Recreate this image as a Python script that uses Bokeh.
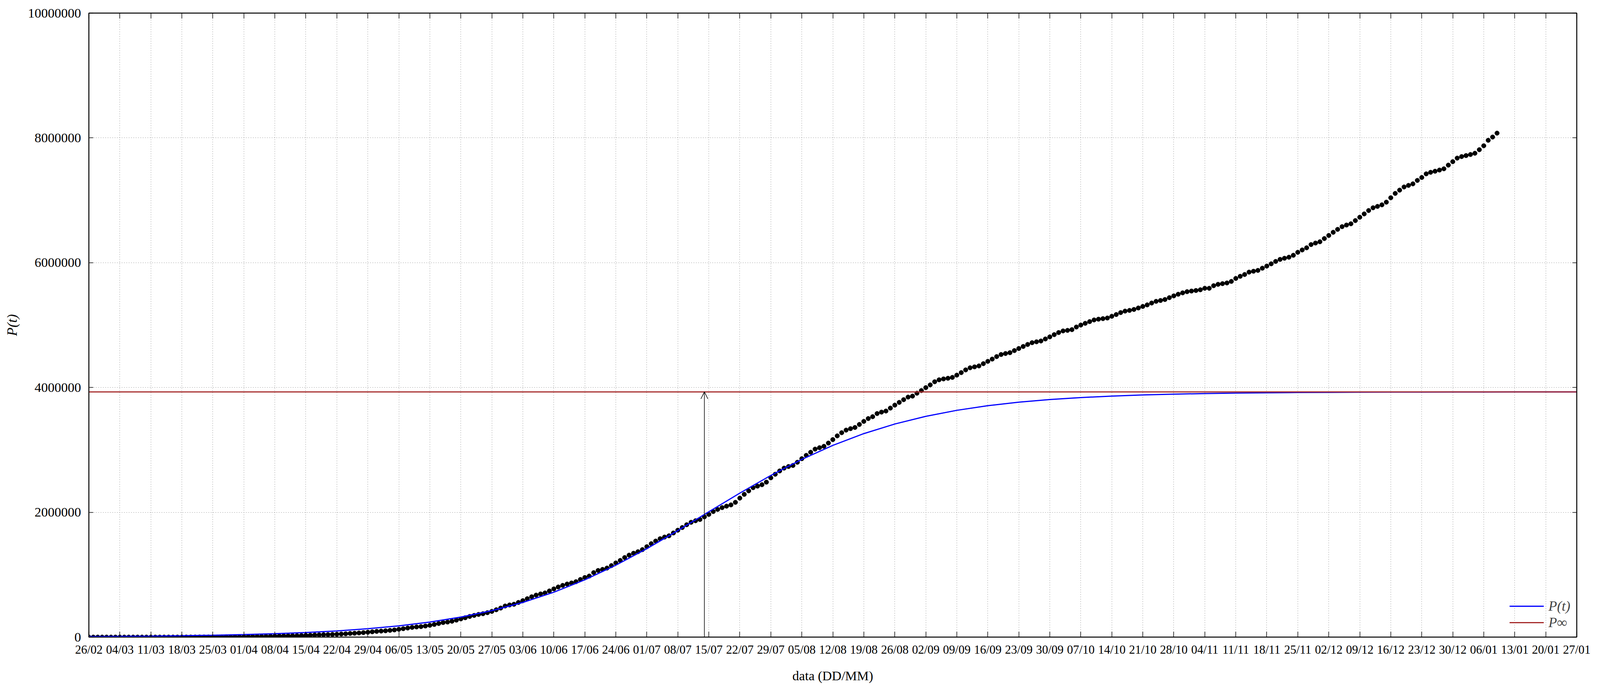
import pandas as pd
from bokeh.plotting import figure
from bokeh.models import (Range1d, FixedTicker, DatetimeTickFormatter, BasicTickFormatter,
                          DatetimeAxis, LinearAxis, CustomJSTickFormatter, Arrow, OpenHead,
                          Legend, LegendItem)
from bokeh.embed import file_html
from bokeh.resources import INLINE

FONT = "Liberation Serif"

# period shown on the x axis
start_date = "2020-02-26"
end_date = "2021-01-27"

# cumulative confirmed cases, one value per day from 26/02
cases_feb = [1, 1, 1, 2]
cases_mar = [2, 2, 2, 3, 8, 13, 19, 25, 25, 34, 52, 77, 98, 121, 200, 234, 291, 428, 621, 904,
             1128, 1546, 1891, 2201, 2433, 2915, 3417, 3904, 4256, 4579, 5717]
cases_apr = [6836, 7910, 9056, 10278, 11130, 12056, 13717, 15927, 17857, 19638, 20727, 22169,
             23430, 25262, 28320, 30425, 33682, 36599, 38654, 40581, 43079, 45757, 49492, 52995,
             58509, 61888, 66501, 71886, 78162, 85380]
cases_may = [91589, 96559, 101147, 107780, 114715, 125218, 135106, 145328, 155939, 162699,
             168331, 177589, 188974, 202918, 218223, 233142, 241080, 254220, 271628, 291579,
             310087, 330890, 347398, 363211, 374898, 391222, 411821, 438238, 465166, 498440,
             514849]
cases_jun = [526447, 555383, 584016, 614941, 645771, 672846, 691758, 707412, 739503, 772416,
             802828, 828810, 850514, 867624, 888271, 923189, 955377, 978142, 1032913, 1067579,
             1085038, 1106470, 1145906, 1188631, 1228114, 1274974, 1313667, 1344143, 1368195,
             1402041]
cases_jul = [1448753, 1496858, 1539081, 1577004, 1603055, 1623284, 1668589, 1713160, 1755779,
             1800827, 1839850, 1864681, 1884967, 1926824, 1966748, 2012151, 2046328, 2074860,
             2098389, 2118646, 2159654, 2227514, 2287475, 2343366, 2394513, 2419091, 2442375,
             2483191, 2552265, 2610102, 2662485]
cases_aug = [2707877, 2733677, 2750318, 2801921, 2859073, 2912212, 2962442, 3012412, 3035422,
             3057470, 3109630, 3164785, 3224876, 3275520, 3317096, 3340197, 3359570, 3407354,
             3456652, 3501975, 3532330, 3582362, 3605783, 3622861, 3669995, 3717156, 3761391,
             3804803, 3846153, 3862311, 3908272]
cases_sep = [3950931, 3997865, 4041638, 4091801, 4123000, 4137521, 4147794, 4162073, 4197889,
             4238446, 4282164, 4315687, 4330455, 4345610, 4382263, 4419083, 4455386, 4495183,
             4528240, 4544629, 4558040, 4591364, 4624885, 4657702, 4689613, 4717991, 4732309,
             4745464, 4777522, 4810935]
cases_oct = [4847092, 4880523, 4906833, 4915289, 4927235, 4969141, 5000694, 5028444, 5055888,
             5082637, 5094979, 5103408, 5113628, 5140863, 5169386, 5200300, 5224362, 5235344,
             5250727, 5273954, 5298772, 5323630, 5353656, 5380635, 5394128, 5409854, 5439641,
             5468270, 5494376, 5516658, 5535605]
cases_nov = [5545705, 5554206, 5566049, 5590025, 5590025, 5631181, 5653561, 5664115, 5675032,
             5700044, 5747660, 5781582, 5810652, 5848959, 5863093, 5876464, 5911758, 5945849,
             5981767, 6020164, 6052786, 6071401, 6087608, 6118708, 6166606, 6204220, 6238350,
             6290272, 6314740, 6335878]
cases_dec = [6386787, 6436650, 6487084, 6533968, 6577177, 6603540, 6623911, 6674999, 6728452,
             6781799, 6836227, 6880127, 6901952, 6927145, 6970034, 7040608, 7110434, 7162978,
             7213155, 7238600, 7263619, 7318821, 7365517, 7423945, 7448560, 7465806, 7484285,
             7504833, 7563551, 7619200, 7675973]
cases_jan = [7700578, 7716405, 7733746, 7753752, 7810400, 7873830, 7961673, 8013708, 8075998]

# fitted curve P(t), read weekly from 26/02
fit_values = [8656, 11766, 15995, 21737, 29505, 40049, 54297, 73513, 99368, 133993, 180110,
              241104, 320921, 424177, 555556, 719253, 918010, 1152155, 1417749, 1707211,
              2008176, 2307286, 2590810, 2848239, 3072233, 3261140, 3415016, 3537990, 3634144,
              3708107, 3764476, 3806959, 3838832, 3862588, 3880221, 3893286, 3902953, 3910100,
              3915356, 3919222, 3922076, 3924152, 3925720, 3926856, 3927682, 3928311, 3928743,
              3929096, 3929332]

p_inf = 3930000
inflection_date = "2020-07-14"
y_ticks = [0, 2000000, 4000000, 6000000, 8000000, 10000000]

cases = (cases_feb + cases_mar + cases_apr + cases_may + cases_jun + cases_jul + cases_aug
         + cases_sep + cases_oct + cases_nov + cases_dec + cases_jan)
dates = pd.date_range(start_date, periods=len(cases), freq="D")
fit_dates = pd.date_range(start_date, periods=len(fit_values), freq="7D")
tick_dates = pd.date_range(start_date, end_date, freq="7D")
tick_ms = [t.value / 1e6 for t in tick_dates]
inflection_ms = pd.Timestamp(inflection_date).value / 1e6

p = figure(sizing_mode="stretch_width", height=1755, x_axis_type="datetime",
           x_range=Range1d(pd.Timestamp(start_date), pd.Timestamp(end_date)),
           y_range=Range1d(0, 10000000),
           min_border_left=227, min_border_right=60, min_border_top=33, min_border_bottom=125,
           output_backend="svg", toolbar_location=None)

x_ticker = FixedTicker(ticks=tick_ms)
y_ticker = FixedTicker(ticks=y_ticks)
date_fmt = DatetimeTickFormatter(days="%d/%m", months="%d/%m", years="%d/%m",
                                 hours="%d/%m", minutes="%d/%m")

bottom_axis = p.below[0]
left_axis = p.left[0]
bottom_axis.ticker = x_ticker
bottom_axis.formatter = date_fmt
left_axis.ticker = y_ticker
left_axis.formatter = BasicTickFormatter(use_scientific=False)

# mirrored tick marks on top and right, without labels
top_axis = DatetimeAxis(ticker=x_ticker, formatter=CustomJSTickFormatter(code="return ''"))
right_axis = LinearAxis(ticker=y_ticker, formatter=CustomJSTickFormatter(code="return ''"))
p.add_layout(top_axis, "above")
p.add_layout(right_axis, "right")

for ax in [bottom_axis, left_axis, top_axis, right_axis]:
    ax.major_tick_out = 0
    ax.minor_tick_in = 0
    ax.minor_tick_out = 0
    ax.axis_line_color = "black"
    ax.axis_line_width = 2
    ax.major_tick_line_color = "black"
    ax.major_tick_line_width = 1.5
    ax.major_label_text_font = FONT
    ax.major_label_text_color = "black"
    ax.axis_label_text_font = FONT
    ax.axis_label_text_color = "black"
for ax in [bottom_axis, top_axis]:
    ax.major_tick_in = 14
for ax in [left_axis, right_axis]:
    ax.major_tick_in = 11
for ax in [top_axis, right_axis]:
    ax.major_label_text_font_size = "0px"
    ax.major_label_standoff = 0

bottom_axis.major_label_text_font_size = "31px"
left_axis.major_label_text_font_size = "34px"
bottom_axis.major_label_standoff = 14
left_axis.major_label_standoff = 20

bottom_axis.axis_label = "data (DD/MM)"
bottom_axis.axis_label_text_font_style = "normal"
bottom_axis.axis_label_text_font_size = "34px"
bottom_axis.axis_label_standoff = 28
left_axis.axis_label = "P(t)"
left_axis.axis_label_text_font_style = "italic"
left_axis.axis_label_text_font_size = "36px"
left_axis.axis_label_standoff = 18

p.outline_line_color = "black"
p.outline_line_width = 2

p.xgrid.ticker = x_ticker
p.ygrid.ticker = y_ticker
p.grid.grid_line_color = "#8a8a8a"
p.grid.grid_line_width = 1
p.grid.grid_line_dash = "2 4"

p.scatter(dates, cases, size=11.5, color="black")
fit_r = p.line(fit_dates, fit_values, line_color="#0000ff", line_width=3)
inf_r = p.line(fit_dates, [p_inf] * len(fit_dates), line_color="#a52a2a", line_width=3)

p.add_layout(Arrow(end=OpenHead(size=18, line_color="black", line_width=1.5),
                   x_start=inflection_ms, y_start=0, x_end=inflection_ms, y_end=p_inf,
                   line_color="black", line_width=1.5))

legend = Legend(items=[LegendItem(label="P(t)", renderers=[fit_r]),
                       LegendItem(label="P∞", renderers=[inf_r])],
                location="bottom_right", border_line_color=None, background_fill_alpha=0,
                label_text_font=FONT, label_text_font_size="36px",
                label_text_font_style="italic", glyph_width=88, glyph_height=40,
                label_standoff=12, spacing=0, padding=0, margin=16)
p.add_layout(legend)

open("out.html", "w").write(file_html(p, INLINE))
